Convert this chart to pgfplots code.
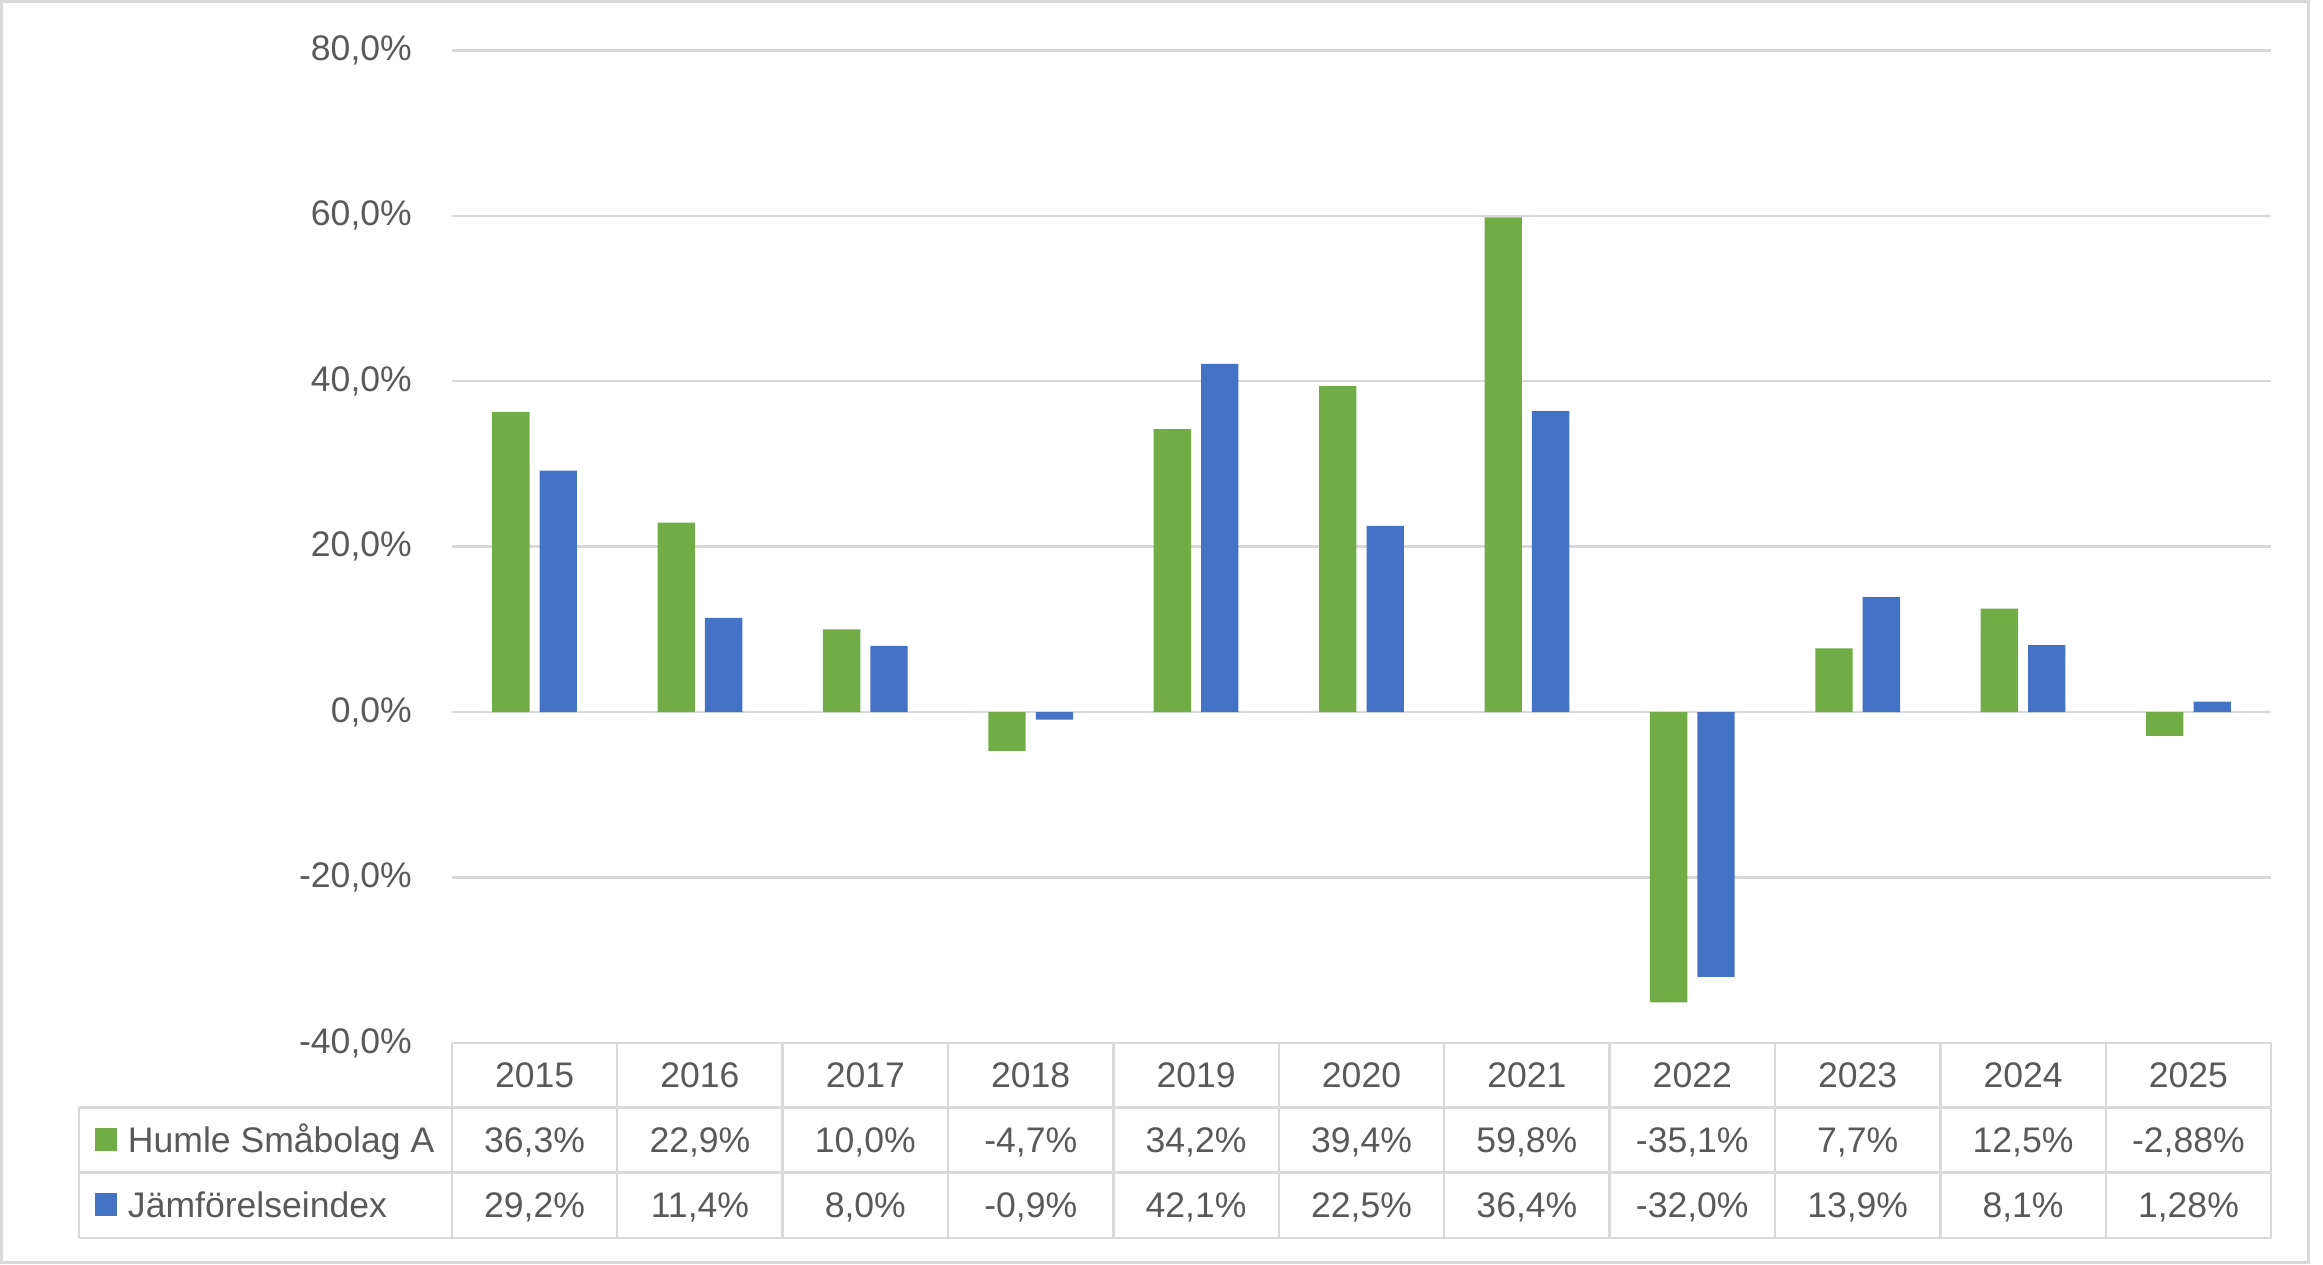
\documentclass[border=0pt]{standalone}
\usepackage{pgfplots}
\pgfplotsset{compat=1.18}
\usepackage{fontspec}
\setmainfont{Liberation Sans}
\definecolor{hgreen}{HTML}{70AD47}
\definecolor{hblue}{HTML}{4472C4}
\definecolor{txt}{HTML}{595959}
\definecolor{grd}{HTML}{D9D9D9}

\begin{document}
\begin{tikzpicture}[font=\fontsize{12bp}{14bp}\selectfont]
\begin{axis}[
    at={(0,0)}, anchor=south west,
    scale only axis, width=614bp, height=335bp,
    xmin=-0.5, xmax=10.5, ymin=-40, ymax=80,
    xtick=\empty,
    ytick={-40,-20,...,80},
    yticklabel={\pgfmathprintnumber[fixed,fixed zerofill,precision=1,use comma]{\tick}\%},
    y tick label style={text=txt, /pgf/number format/assume math mode=true, xshift=-10bp},
    axis line style={draw=none},
    major tick length=0pt,
    ymajorgrids, grid style={grd, line width=0.8bp},
    ybar, bar width=12.6bp,
    clip=false,
]
\addplot[fill=hgreen, draw=none, bar shift=-8bp] coordinates {
    (0,36.3) (1,22.9) (2,10.0) (3,-4.7) (4,34.2) (5,39.4)
    (6,59.8) (7,-35.1) (8,7.7) (9,12.5) (10,-2.88)};
\addplot[fill=hblue, draw=none, bar shift=8bp] coordinates {
    (0,29.2) (1,11.4) (2,8.0) (3,-0.9) (4,42.1) (5,22.5)
    (6,36.4) (7,-32.0) (8,13.9) (9,8.1) (10,1.28)};
\end{axis}

% data table under the plot
\begin{scope}[grd, line width=0.8bp]
  \draw (0,0) -- (614bp,0);
  \foreach \yy in {-21.75bp,-43.75bp,-65.75bp}
    \draw (-125.75bp,\yy) -- (614bp,\yy);
  \foreach \i in {0,...,11}
    \draw ({\i*55.818bp},0) -- ({\i*55.818bp},-65.75bp);
  \draw (-125.75bp,-21.75bp) -- (-125.75bp,-65.75bp);
\end{scope}

\foreach \i/\yr/\a/\b in {0/2015/36{,}3/29{,}2, 1/2016/22{,}9/11{,}4,
    2/2017/10{,}0/8{,}0, 3/2018/-4{,}7/-0{,}9, 4/2019/34{,}2/42{,}1,
    5/2020/39{,}4/22{,}5, 6/2021/59{,}8/36{,}4, 7/2022/-35{,}1/-32{,}0,
    8/2023/7{,}7/13{,}9, 9/2024/12{,}5/8{,}1, 10/2025/-2{,}88/1{,}28} {
  \node[text=txt, anchor=base, inner sep=0pt] at ({(\i+0.5)*55.818bp},-14.95bp) {\yr};
  \node[text=txt, anchor=base, inner sep=0pt] at ({(\i+0.5)*55.818bp},-36.8bp) {\a\%};
  \node[text=txt, anchor=base, inner sep=0pt] at ({(\i+0.5)*55.818bp},-58.8bp) {\b\%};
}

\fill[hgreen] (-120.6bp,-36.5bp) rectangle (-113bp,-28.75bp);
\fill[hblue] (-120.6bp,-58.5bp) rectangle (-113bp,-50.75bp);
\node[text=txt, anchor=base west, inner sep=0pt] at (-109.5bp,-36.8bp) {Humle Småbolag A};
\node[text=txt, anchor=base west, inner sep=0pt] at (-109.5bp,-58.8bp) {Jämförelseindex};

% chart frame and page size
\draw[grd, line width=0.9bp] (-152bp,-74bp) rectangle (626.5bp,351.5bp);
\path (-152.5bp,-74.6bp) rectangle (631.5bp,352bp);
\end{tikzpicture}
\end{document}
